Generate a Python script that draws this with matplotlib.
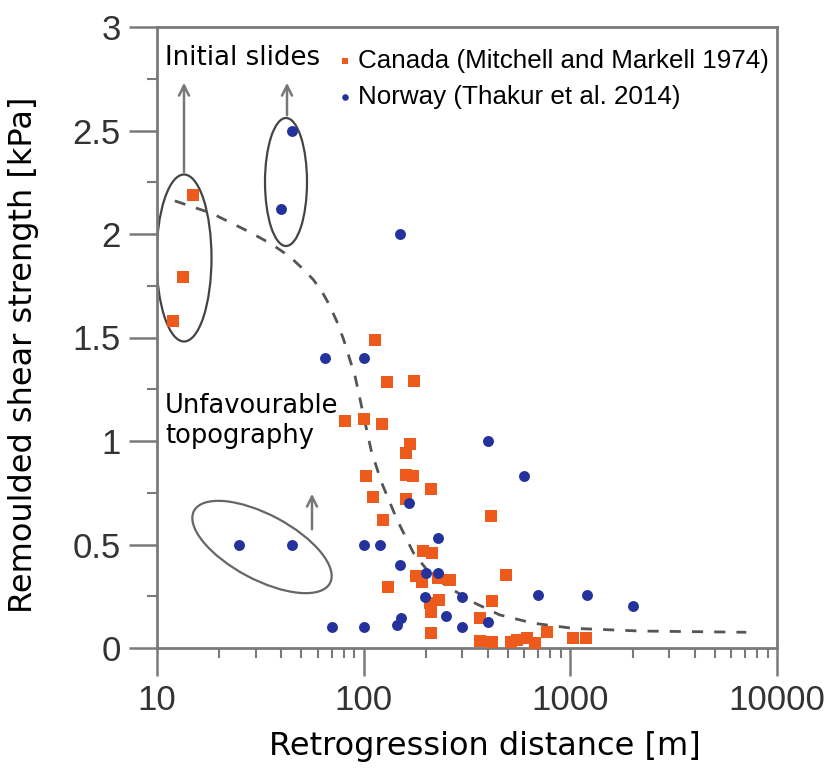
import matplotlib
matplotlib.use('Agg')
import matplotlib.pyplot as plt
from matplotlib.patches import Ellipse
from matplotlib.ticker import LogLocator, MultipleLocator, FixedLocator, FixedFormatter

# Canada (Mitchell and Markell 1974)
canada_x = [15, 13.4, 11.9, 113, 130, 175, 81, 100, 122, 167, 161, 103, 161, 173, 211,
            111, 161, 124, 411, 194, 213, 131, 180, 191, 230, 262, 486, 209, 232, 212,
            416, 212, 365, 768, 1026, 1190, 366, 416, 514, 553, 615, 674]
canada_y = [2.19, 1.79, 1.58, 1.49, 1.285, 1.29, 1.095, 1.105, 1.08, 0.985, 0.94, 0.83,
            0.835, 0.83, 0.77, 0.73, 0.72, 0.62, 0.638, 0.47, 0.46, 0.295, 0.348, 0.32,
            0.337, 0.33, 0.351, 0.216, 0.232, 0.175, 0.226, 0.072, 0.143, 0.079, 0.047,
            0.05, 0.035, 0.03, 0.03, 0.039, 0.047, 0.023]

# Norway (Thakur et al. 2014)
norway_x = [45, 40, 150, 65, 100, 400, 600, 165, 230, 25, 45, 100, 120, 150, 200, 230,
            197, 300, 700, 1200, 2000, 250, 152, 145, 70, 100, 300, 400]
norway_y = [2.5, 2.12, 2.0, 1.4, 1.4, 1.0, 0.83, 0.70, 0.53, 0.5, 0.5, 0.5, 0.5, 0.4,
            0.36, 0.36, 0.245, 0.245, 0.255, 0.255, 0.205, 0.155, 0.145, 0.11, 0.10,
            0.10, 0.10, 0.125]

# dashed trend curve
trend_x = [12.2, 18.4, 28, 36, 44, 51, 57, 63, 68, 74, 80, 91, 100, 109, 122, 145, 174,
           209, 252, 340, 455, 660, 1030, 2170, 7100]
trend_y = [2.16, 2.10, 2.01, 1.95, 1.89, 1.83, 1.78, 1.72, 1.66, 1.58, 1.49, 1.31, 1.12,
           0.95, 0.80, 0.62, 0.46, 0.36, 0.30, 0.22, 0.16, 0.12, 0.095, 0.082, 0.076]

x_ticks = [10, 100, 1000, 10000]
x_ticklabels = ['10', '100', '1000', '10000']
y_ticks = [0, 0.5, 1, 1.5, 2, 2.5, 3]
y_ticklabels = ['0', '0.5', '1', '1.5', '2', '2.5', '3']

orange = '#ee5a1c'
blue = '#24339c'
frame = '#7a7a7a'

fig = plt.figure(figsize=(8.29, 7.69), dpi=100)
ax = fig.add_axes([157 / 829, 121 / 769, 620 / 829, 621 / 769])

ax.plot(trend_x, trend_y, ls=(0, (4, 4)), color='#555555', lw=2, zorder=2)
ax.scatter(canada_x, canada_y, marker='s', s=70, color=orange, linewidths=0, zorder=3,
           label='Canada (Mitchell and Markell 1974)')
ax.scatter(norway_x, norway_y, marker='o', s=62, color=blue, linewidths=0, zorder=3,
           label='Norway (Thakur et al. 2014)')

ax.set_xscale('log')
ax.set_xlim(10, 10000)
ax.set_ylim(0, 3)

ax.xaxis.set_major_locator(FixedLocator(x_ticks))
ax.xaxis.set_major_formatter(FixedFormatter(x_ticklabels))
ax.xaxis.set_minor_locator(LogLocator(base=10, subs=range(2, 10)))
ax.yaxis.set_major_locator(FixedLocator(y_ticks))
ax.yaxis.set_major_formatter(FixedFormatter(y_ticklabels))
ax.yaxis.set_minor_locator(MultipleLocator(0.25))

for s in ax.spines.values():
    s.set_color(frame)
    s.set_linewidth(2)
ax.tick_params(which='major', direction='out', length=20, width=1.8, color=frame,
               labelsize=25, labelcolor='#333333', pad=6)
ax.tick_params(which='minor', direction='out', length=7, width=1.5, color=frame)
for lab in ax.get_xticklabels() + ax.get_yticklabels():
    lab.set_family('Liberation Sans')

ax.set_xlabel('Retrogression distance [m]', fontsize=23, family='DejaVu Sans')
ax.set_ylabel('Remoulded shear strength [kPa]', fontsize=23, family='DejaVu Sans')
ax.xaxis.set_label_coords((485 - 157) / 620, -0.134)
ax.yaxis.set_label_coords(-0.19, (648 - 355) / 621)

# ellipses around groups (axes-fraction coordinates)
def px(x, y):
    return ((x - 157) / 620, (648 - y) / 621)

e1 = Ellipse(px(184, 258), 55 / 620, 167 / 621, fill=False, ec='#444444', lw=1.6,
             transform=ax.transAxes)
e2 = Ellipse(px(286, 182), 42 / 620, 128 / 621, fill=False, ec='#444444', lw=1.6,
             transform=ax.transAxes)
ax.add_patch(e1)
ax.add_patch(e2)
# tilted ellipse drawn in display space so the angle is kept
cx, cy = ax.transAxes.transform(px(262, 547))
e3 = Ellipse((cx, cy), 154, 65, angle=-28, fill=False, ec='#666666', lw=1.6,
             transform=None)
ax.add_artist(e3)

arrow = dict(arrowstyle='->', color='#777777', lw=1.8, mutation_scale=18)
ax.annotate('', xy=px(184, 80), xytext=px(184, 175), xycoords='axes fraction', arrowprops=arrow)
ax.annotate('', xy=px(287, 80), xytext=px(287, 118), xycoords='axes fraction', arrowprops=arrow)
ax.annotate('', xy=px(312, 491), xytext=px(312, 532), xycoords='axes fraction', arrowprops=arrow)

ax.text(*px(165, 65), 'Initial slides', transform=ax.transAxes, fontsize=18.7,
        family='DejaVu Sans', va='baseline', ha='left')
ax.text(*px(165, 443), 'Unfavourable\ntopography', transform=ax.transAxes, fontsize=18.5,
        family='DejaVu Sans', va='baseline', ha='left', linespacing=1.2)

leg = ax.legend(loc='upper left', bbox_to_anchor=px(333, 49), frameon=False,
                prop={'family': 'Liberation Sans', 'size': 18.7}, handletextpad=0.05,
                markerscale=0.6, labelspacing=0.45, borderaxespad=0, borderpad=0,
                handlelength=0.9)

fig.savefig('out.png', dpi=100)
